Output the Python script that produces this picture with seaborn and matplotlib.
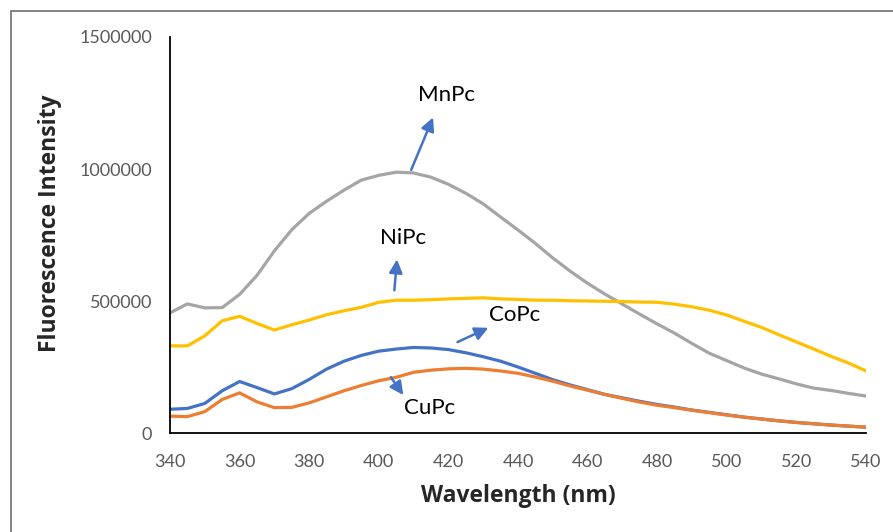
import matplotlib
matplotlib.use("Agg")
import matplotlib.pyplot as plt
import seaborn as sns
import pandas as pd
from matplotlib.patches import Rectangle

# wavelength grid (nm)
wavelength = list(range(340, 545, 5))

# fluorescence intensity
copc = [90e3, 93e3, 112e3, 160e3, 195e3, 172e3, 148e3, 168e3, 203e3, 242e3,
        272e3, 294e3, 310e3, 318e3, 324e3, 322e3, 316e3, 304e3, 289e3, 272e3,
        250e3, 226e3, 202e3, 182e3, 164e3, 146e3, 133e3, 120e3, 108e3, 98e3,
        87e3, 78e3, 69e3, 60e3, 53e3, 46e3, 40e3, 35e3, 30e3, 26e3, 22e3]
cupc = [64e3, 62e3, 81e3, 127e3, 152e3, 118e3, 96e3, 97e3, 114e3, 137e3,
        160e3, 180e3, 198e3, 211e3, 230e3, 238e3, 243e3, 245e3, 242e3, 235e3,
        226e3, 212e3, 196e3, 178e3, 162e3, 146e3, 131e3, 117e3, 105e3, 96e3,
        86e3, 77e3, 68e3, 60e3, 53e3, 46e3, 40e3, 35e3, 30e3, 26e3, 22e3]
mnpc = [455e3, 489e3, 474e3, 475e3, 525e3, 597e3, 690e3, 770e3, 832e3, 878e3,
        920e3, 958e3, 976e3, 988e3, 985e3, 969e3, 942e3, 908e3, 868e3, 818e3,
        769e3, 718e3, 663e3, 613e3, 567e3, 526e3, 488e3, 450e3, 413e3, 378e3,
        339e3, 302e3, 274e3, 246e3, 223e3, 205e3, 186e3, 170e3, 161e3, 150e3, 140e3]
nipc = [330e3, 330e3, 368e3, 425e3, 442e3, 415e3, 390e3, 410e3, 428e3, 448e3,
        463e3, 476e3, 495e3, 503e3, 503e3, 505e3, 508e3, 510e3, 512e3, 508e3,
        506e3, 503e3, 503e3, 501e3, 500e3, 499e3, 498e3, 496e3, 495e3, 488e3,
        478e3, 465e3, 447e3, 423e3, 400e3, 372e3, 345e3, 318e3, 290e3, 265e3, 235e3]

series_names = ["CoPc", "CuPc", "MnPc", "NiPc"]
series_colors = ["#4472C4", "#ED7D31", "#A5A5A5", "#FFC000"]

x_ticks = [340, 360, 380, 400, 420, 440, 460, 480, 500, 520, 540]
y_ticks = [0, 500000, 1000000, 1500000]
y_tick_labels = ["0", "500000", "1000000", "1500000"]

frames = []
for name, vals in zip(series_names, [copc, cupc, mnpc, nipc]):
    frames.append(pd.DataFrame({"Wavelength": wavelength, "Intensity": vals, "Sample": name}))
df = pd.concat(frames, ignore_index=True)

sns.set_theme(style="white")
plt.rcParams["font.family"] = ["Lato", "DejaVu Sans"]

fig = plt.figure(figsize=(8.93, 5.32), dpi=100)
ax = fig.add_axes([170 / 893, 1 - 433 / 532, 696 / 893, 396 / 532])

sns.lineplot(data=df, x="Wavelength", y="Intensity", hue="Sample",
             hue_order=series_names, palette=dict(zip(series_names, series_colors)),
             linewidth=2.3, legend=False, ax=ax)

ax.set_xlim(340, 540)
ax.set_ylim(0, 1500000)
ax.set_xticks(x_ticks)
ax.set_yticks(y_ticks)
ax.set_yticklabels(y_tick_labels)
ax.tick_params(axis="both", length=0, labelsize=13, labelcolor="#595959")
ax.tick_params(axis="x", pad=15)
ax.tick_params(axis="y", pad=13)

for side in ["top", "right"]:
    ax.spines[side].set_visible(False)
for side in ["left", "bottom"]:
    ax.spines[side].set_color("black")
    ax.spines[side].set_linewidth(1.3)

label_font = dict(family=["Open Sans", "DejaVu Sans"], fontsize=16.5, fontweight="bold")
ax.set_xlabel("Wavelength (nm)", labelpad=10, **label_font)
ax.set_ylabel("Fluorescence Intensity", **label_font)
ax.yaxis.set_label_coords(-0.155, 0.53)

# labels with arrows
arrow_kw = dict(arrowstyle="-|>", color="#4472C4", lw=1.8, mutation_scale=20)
labels = [
    ("MnPc", (409.0, 987e3), (415.9, 1205e3), (419.5, 1281e3)),
    ("NiPc", (404.4, 530e3), (405.3, 668e3), (407.0, 738e3)),
    ("CoPc", (421.9, 340e3), (432.2, 403e3), (439.1, 447e3)),
    ("CuPc", (403.0, 220e3), (407.5, 135e3), (414.7, 94e3)),
]
for text, start, tip, pos in labels:
    ax.annotate("", xy=tip, xytext=start, arrowprops=arrow_kw)
    ax.text(pos[0], pos[1], text, fontsize=16, ha="center", va="center", color="black")

# chart area border
fig.patches.append(Rectangle((11 / 893, -0.05), 1.2, 1 - 11 / 532 + 0.05,
                             transform=fig.transFigure, fill=False,
                             edgecolor="#6e6e6e", linewidth=1.2))

fig.savefig("out.png", dpi=100)
